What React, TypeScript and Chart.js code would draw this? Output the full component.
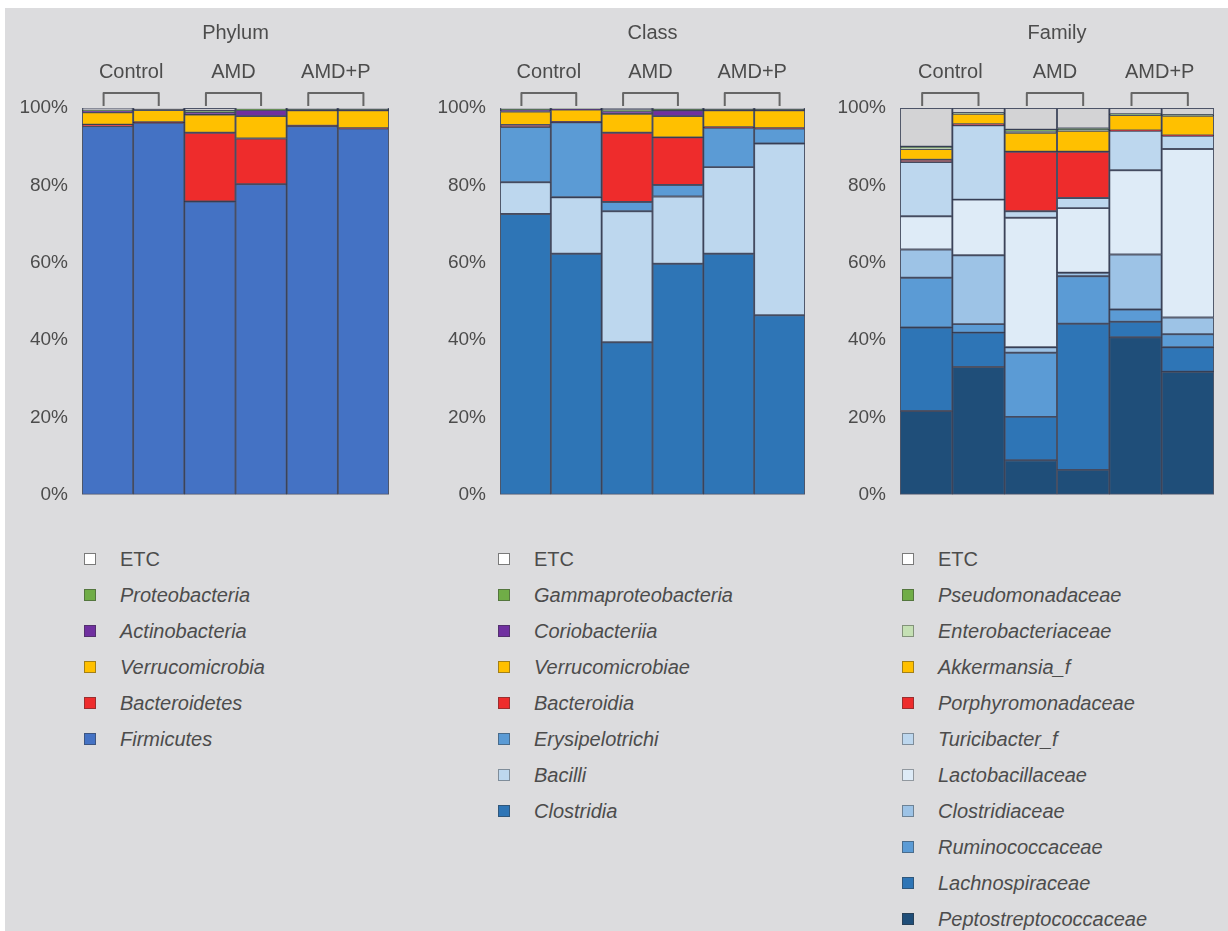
import React, { useEffect, useRef } from 'react';
import { Chart, registerables } from 'chart.js';

Chart.register(...registerables);

// ---------- data ----------
const GROUPS = ['Control', 'AMD', 'AMD+P'];
const SAMPLES = ['Control-1', 'Control-2', 'AMD-1', 'AMD-2', 'AMD+P-1', 'AMD+P-2'];
const Y_MAX = 100;
const Y_STEP = 20;

// Phylum (bottom -> top)
const PHY_FIRMICUTES = [95.3, 96.2, 75.8, 80.3, 95.3, 94.7];
const PHY_BACTEROIDETES = [0.4, 0.1, 17.8, 11.8, 0.1, 0.1];
const PHY_VERRUCOMICROBIA = [3.2, 3.2, 4.7, 5.8, 4.0, 4.6];
const PHY_ACTINOBACTERIA = [0.3, 0.1, 0.6, 1.6, 0.1, 0.1];
const PHY_PROTEOBACTERIA = [0.2, 0.1, 0.4, 0.2, 0.1, 0.1];
const PHY_ETC = [0.6, 0.3, 0.7, 0.3, 0.4, 0.4];

// Class (bottom -> top)
const CLS_CLOSTRIDIA = [72.6, 62.3, 39.4, 59.7, 62.3, 46.4];
const CLS_BACILLI = [8.2, 14.6, 33.9, 17.4, 22.4, 44.4];
const CLS_ERYSIPELOTRICHI = [14.3, 19.4, 2.4, 3.0, 10.2, 3.9];
const CLS_BACTEROIDIA = [0.5, 0.1, 17.9, 12.3, 0.1, 0.1];
const CLS_VERRUCOMICROBIAE = [3.5, 3.2, 4.9, 5.5, 4.4, 4.6];
const CLS_CORIOBACTERIIA = [0.3, 0.1, 0.6, 1.5, 0.1, 0.1];
const CLS_GAMMAPROTEOBACTERIA = [0.2, 0.1, 0.4, 0.2, 0.1, 0.1];
const CLS_ETC = [0.4, 0.2, 0.5, 0.4, 0.4, 0.4];

// Family (bottom -> top)
const FAM_PEPTOSTREPTOCOCCACEAE = [21.6, 33.0, 8.9, 6.4, 40.7, 31.8];
const FAM_LACHNOSPIRACEAE = [21.6, 8.9, 11.2, 37.8, 4.0, 6.3];
const FAM_RUMINOCOCCACEAE = [12.9, 2.2, 16.6, 12.3, 3.2, 3.4];
const FAM_CLOSTRIDIACEAE = [7.3, 17.8, 1.4, 0.9, 14.2, 4.3];
const FAM_LACTOBACILLACEAE = [8.6, 14.4, 33.5, 16.7, 21.8, 43.6];
const FAM_TURICIBACTER = [14.0, 19.2, 1.7, 2.6, 10.2, 3.4];
const FAM_PORPHYROMONADACEAE = [0.6, 0.3, 15.4, 12.0, 0.1, 0.1];
const FAM_AKKERMANSIA = [2.8, 2.7, 4.9, 5.4, 4.0, 5.1];
const FAM_ENTEROBACTERIACEAE = [0.3, 0.1, 0.4, 0.3, 0.1, 0.1];
const FAM_PSEUDOMONADACEAE = [0.3, 0.1, 0.4, 0.3, 0.1, 0.1];
const FAM_ETC = [10.0, 1.3, 5.6, 5.3, 1.6, 1.8];

// ---------- styles ----------
const FONT = '"Liberation Sans", Arial, Helvetica, sans-serif';
const TEXT = '#4c4c4c';
const BG = '#DCDCDE';
const SEG_BORDER = 'rgba(22, 32, 58, 0.72)';

const C_ETC = '#D3D3D5';
const C_GREEN = '#70AD47';
const C_LIGHTGREEN = '#C5E0B4';
const C_PURPLE = '#7030A0';
const C_YELLOW = '#FFC000';
const C_RED = '#EE2C2C';
const C_FIRM = '#4472C4';
const C_CLOS = '#2E75B6';
const C_BACI = '#BDD7EE';
const C_ERYS = '#5B9BD5';
const C_PEPTO = '#1F4E79';
const C_LACHNO = '#2E75B6';
const C_RUMINO = '#5B9BD5';
const C_CLOSTRI = '#9DC3E6';
const C_LACTO = '#DEEBF7';
const C_TURICI = '#BDD7EE';

type Series = { name: string; italic: boolean; data: number[]; color: string; swatch?: string };

const PHYLUM: Series[] = [
  { name: 'Firmicutes', italic: true, data: PHY_FIRMICUTES, color: C_FIRM },
  { name: 'Bacteroidetes', italic: true, data: PHY_BACTEROIDETES, color: C_RED },
  { name: 'Verrucomicrobia', italic: true, data: PHY_VERRUCOMICROBIA, color: C_YELLOW },
  { name: 'Actinobacteria', italic: true, data: PHY_ACTINOBACTERIA, color: C_PURPLE },
  { name: 'Proteobacteria', italic: true, data: PHY_PROTEOBACTERIA, color: C_GREEN },
  { name: 'ETC', italic: false, data: PHY_ETC, color: C_ETC, swatch: '#ffffff' },
];

const CLASS: Series[] = [
  { name: 'Clostridia', italic: true, data: CLS_CLOSTRIDIA, color: C_CLOS },
  { name: 'Bacilli', italic: true, data: CLS_BACILLI, color: C_BACI },
  { name: 'Erysipelotrichi', italic: true, data: CLS_ERYSIPELOTRICHI, color: C_ERYS },
  { name: 'Bacteroidia', italic: true, data: CLS_BACTEROIDIA, color: C_RED },
  { name: 'Verrucomicrobiae', italic: true, data: CLS_VERRUCOMICROBIAE, color: C_YELLOW },
  { name: 'Coriobacteriia', italic: true, data: CLS_CORIOBACTERIIA, color: C_PURPLE },
  { name: 'Gammaproteobacteria', italic: true, data: CLS_GAMMAPROTEOBACTERIA, color: C_GREEN },
  { name: 'ETC', italic: false, data: CLS_ETC, color: C_ETC, swatch: '#ffffff' },
];

const FAMILY: Series[] = [
  { name: 'Peptostreptococcaceae', italic: true, data: FAM_PEPTOSTREPTOCOCCACEAE, color: C_PEPTO },
  { name: 'Lachnospiraceae', italic: true, data: FAM_LACHNOSPIRACEAE, color: C_LACHNO },
  { name: 'Ruminococcaceae', italic: true, data: FAM_RUMINOCOCCACEAE, color: C_RUMINO },
  { name: 'Clostridiaceae', italic: true, data: FAM_CLOSTRIDIACEAE, color: C_CLOSTRI },
  { name: 'Lactobacillaceae', italic: true, data: FAM_LACTOBACILLACEAE, color: C_LACTO },
  { name: 'Turicibacter_f', italic: true, data: FAM_TURICIBACTER, color: C_TURICI },
  { name: 'Porphyromonadaceae', italic: true, data: FAM_PORPHYROMONADACEAE, color: C_RED },
  { name: 'Akkermansia_f', italic: true, data: FAM_AKKERMANSIA, color: C_YELLOW },
  { name: 'Enterobacteriaceae', italic: true, data: FAM_ENTEROBACTERIACEAE, color: C_LIGHTGREEN },
  { name: 'Pseudomonadaceae', italic: true, data: FAM_PSEUDOMONADACEAE, color: C_GREEN },
  { name: 'ETC', italic: false, data: FAM_ETC, color: C_ETC, swatch: '#ffffff' },
];

// ---------- header plugin (title, group labels, brackets) ----------
const headerPlugin = {
  id: 'header',
  afterDraw(chart: any, _args: any, opts: any) {
    const { ctx, chartArea, scales } = chart;
    const xs = scales.x;
    ctx.save();
    ctx.fillStyle = TEXT;
    ctx.font = `20px ${FONT}`;
    ctx.textAlign = 'center';
    ctx.textBaseline = 'middle';
    ctx.fillText(opts.title, (chartArea.left + chartArea.right) / 2, 33);
    GROUPS.forEach((g, i) => {
      const x1 = xs.getPixelForValue(2 * i) - 4;
      const x2 = xs.getPixelForValue(2 * i + 1);
      ctx.fillStyle = TEXT;
      ctx.fillText(g, (x1 + x2) / 2, 72);
      const yTop = chartArea.top - 15;
      const yBot = chartArea.top - 2;
      ctx.beginPath();
      ctx.moveTo(x1, yBot);
      ctx.lineTo(x1, yTop);
      ctx.lineTo(x2, yTop);
      ctx.lineTo(x2, yBot);
      ctx.strokeStyle = '#666666';
      ctx.lineWidth = 2;
      ctx.lineJoin = 'round';
      ctx.stroke();
    });
    ctx.restore();
  },
};

type PanelProps = {
  title: string;
  series: Series[];
  left: number;
  width: number;
  rightPad: number;
  swatchX: number;
  textX: number;
};

const CANVAS_H = 520;

function Panel({ title, series, left, width, rightPad, swatchX, textX }: PanelProps) {
  const ref = useRef<HTMLCanvasElement | null>(null);

  useEffect(() => {
    if (!ref.current) return;
    const chart = new Chart(ref.current, {
      type: 'bar',
      data: {
        labels: SAMPLES,
        datasets: series.map((s) => ({
          label: s.name,
          data: s.data,
          backgroundColor: s.color,
          borderColor: SEG_BORDER,
          borderWidth: 1.3,
          borderSkipped: false,
          barPercentage: 1,
          categoryPercentage: 1,
        })),
      },
      options: {
        responsive: false,
        animation: false,
        layout: { padding: { top: 108, bottom: 18, left: 0, right: rightPad } },
        plugins: {
          legend: { display: false },
          tooltip: { enabled: false },
          title: { display: false },
          // @ts-ignore
          header: { title },
        },
        scales: {
          x: { display: false, stacked: true },
          y: {
            stacked: true,
            min: 0,
            max: Y_MAX,
            afterFit(scale: any) {
              scale.width = 82;
            },
            ticks: {
              stepSize: Y_STEP,
              callback: (v: any) => `${v}%`,
              color: TEXT,
              font: { family: FONT, size: 19 },
              padding: 14,
            },
            grid: { display: false, drawTicks: false },
            border: { display: false },
          },
        },
      },
      plugins: [headerPlugin as any],
    });
    return () => chart.destroy();
  }, []);

  const legendRows = [...series].reverse();

  return (
    <>
      <canvas
        ref={ref}
        width={width}
        height={CANVAS_H}
        style={{ position: 'absolute', left, top: 0, width, height: CANVAS_H, display: 'block' }}
      />
      {legendRows.map((s, i) => {
        const cy = 559 + i * 36;
        return (
          <React.Fragment key={s.name}>
            <div
              style={{
                position: 'absolute',
                left: swatchX - 6,
                top: cy - 6,
                width: 10,
                height: 10,
                background: s.swatch ?? s.color,
                border: `1px solid ${s.swatch ? '#7a7a7a' : 'rgba(50,50,50,0.45)'}`,
              }}
            />
            <div
              style={{
                position: 'absolute',
                left: textX,
                top: cy - 13,
                height: 26,
                lineHeight: '26px',
                fontFamily: FONT,
                fontSize: 20,
                fontStyle: s.italic ? 'italic' : 'normal',
                color: TEXT,
                whiteSpace: 'nowrap',
              }}
            >
              {s.name}
            </div>
          </React.Fragment>
        );
      })}
    </>
  );
}

export default function App() {
  return (
    <div style={{ position: 'absolute', left: 0, top: 0, width: 1228, height: 931, background: '#ffffff', overflow: 'hidden' }}>
      <div style={{ position: 'absolute', left: 5, top: 8, width: 1223, height: 923, background: BG }} />
      <Panel title="Phylum" series={PHYLUM} left={0} width={400} rightPad={11} swatchX={90} textX={120} />
      <Panel title="Class" series={CLASS} left={418} width={398} rightPad={11} swatchX={504} textX={534} />
      <Panel title="Family" series={FAMILY} left={818} width={410} rightPad={14} swatchX={908} textX={938} />
    </div>
  );
}
